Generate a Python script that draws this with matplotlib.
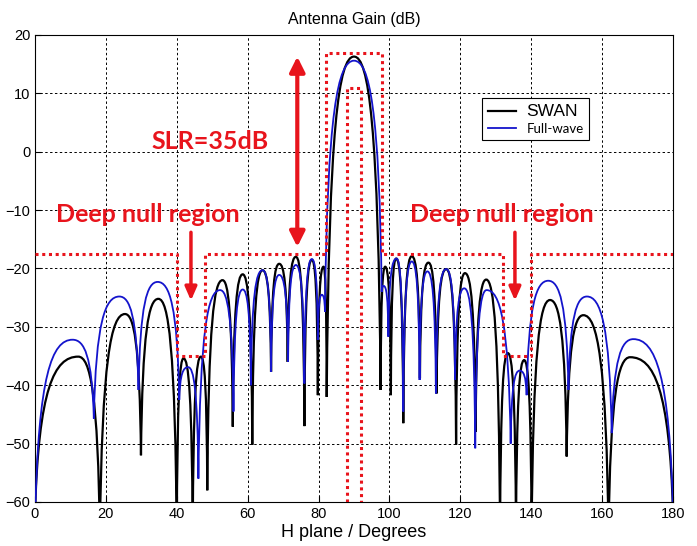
import matplotlib
matplotlib.use("Agg")
import matplotlib.pyplot as plt
from matplotlib.path import Path
from matplotlib.patches import PathPatch
from matplotlib.lines import Line2D


# turning points of the patterns (deg, dB): nulls and lobe peaks, alternating
swan_deg = [0.0, 12.2, 18.3, 25.4, 29.9, 34.8, 40.0, 41.9, 44.5, 46.8, 48.6,
            52.9, 55.8, 58.6, 61.3, 64.2, 66.6, 68.9, 71.3, 73.6, 76.0, 78.1,
            79.8, 81.4, 82.3, 90.0, 97.5, 98.8, 100.4, 101.9, 103.9, 106.3,
            108.6, 111.0, 113.3, 116.0, 118.8, 121.3, 124.3, 127.3, 131.2,
            133.4, 135.7, 138.0, 140.1, 145.3, 150.0, 154.7, 161.8, 167.9, 180.0]
swan_db = [-62, -35.1, -66, -27.8, -52.0, -25.2, -66, -35.4, -66, -35.1, -58.0,
           -22.0, -47.1, -21.0, -50.2, -20.3, -37.7, -19.2, -36.0, -18.0, -47.0, -18.5,
           -41.7, -19.7, -42.0, 16.3, -40.8, -19.7, -41.7, -18.3, -46.5, -17.9,
           -38.8, -19.0, -41.4, -20.1, -50.2, -20.8, -48.0, -21.9, -66,
           -34.5, -66, -35.7, -66, -25.4, -52.2, -28.0, -66, -35.2, -62]

fw_deg = [0.1, 10.6, 16.6, 23.8, 29.2, 34.6, 40.7, 43.2, 46.1, 52.2, 56.0,
          58.6, 60.9, 64.2, 66.6, 68.9, 71.4, 73.6, 76.0, 78.1, 79.8, 80.9,
          81.8, 90.0, 97.8, 98.4, 99.7, 102.0, 103.9, 106.3, 108.5, 110.7,
          113.1, 116.0, 118.5, 121.1, 124.2, 127.4, 134.2, 136.7, 138.7,
          144.8, 150.5, 155.7, 162.7, 168.8, 180.0]
fw_db = [-62, -32.2, -45.7, -24.8, -40.8, -22.3, -42.5, -36.9, -56.0, -23.7, -44.5,
         -23.6, -40.0, -20.3, -37.7, -21.1, -36.0, -19.4, -39.7, -18.4, -32.2, -24.5,
         -27.4, 15.6, -24.0, -23.0, -31.7, -18.3, -44.5, -18.8, -39.1, -20.5,
         -41.4, -20.1, -39.1, -23.4, -50.8, -23.7, -50.0, -37.5, -41.7,
         -22.1, -40.8, -24.8, -48.2, -32.1, -62]

# sidelobe masks (red dotted)
mask_deg = [0, 40, 40, 48, 48, 82, 82, 98, 98, 132, 132, 140, 140, 180]
mask_db = [-17.5, -17.5, -35, -35, -17.5, -17.5, 17, 17, -17.5, -17.5, -35, -35, -17.5, -17.5]
inner_deg = [88, 88, 92, 92]
inner_db = [-60, 11, 11, -60]

RED = "#e8141c"
BLUE = "#1414cc"


def pattern_path(xs, ys):
    # smooth lobes: steep near the nulls, flat on top of the peaks
    verts = [(xs[0], ys[0])]
    codes = [Path.MOVETO]
    for i in range(1, len(xs)):
        x0, y0, x1, y1 = xs[i - 1], ys[i - 1], xs[i], ys[i]
        dx, dy = x1 - x0, y1 - y0
        if dy > 0:
            c1 = (x0 + 0.08 * dx, y0 + 0.8 * dy)
            c2 = (x0 + 0.45 * dx, y1)
        else:
            c1 = (x0 + 0.55 * dx, y0)
            c2 = (x0 + 0.92 * dx, y0 + 0.2 * dy)
        verts += [c1, c2, (x1, y1)]
        codes += [Path.CURVE4] * 3
    return Path(verts, codes)


plt.rcParams['font.family'] = ['Liberation Sans', 'DejaVu Sans']

fig = plt.figure(figsize=(6.97, 5.46), dpi=100)
ax = fig.add_axes([0.0502, 0.0806, 0.9154, 0.8553])

ax.set_xlim(0, 180)
ax.set_ylim(-60, 20)
ax.set_xticks(range(0, 181, 20))
ax.set_yticks(range(-60, 21, 10))
ax.tick_params(direction='in', length=4, labelsize=10.5, width=0.8)
ax.grid(True, color='k', linestyle=(0, (2.5, 2.5)), linewidth=0.7)
for s in ax.spines.values():
    s.set_linewidth(0.8)

ax.add_patch(PathPatch(pattern_path(swan_deg, swan_db), fill=False,
                       edgecolor='black', lw=1.6, zorder=3))
ax.add_patch(PathPatch(pattern_path(fw_deg, fw_db), fill=False,
                       edgecolor=BLUE, lw=1.3, zorder=4))

ax.plot(mask_deg, mask_db, color=RED, linestyle=(0, (1, 1.2)), lw=2.2, zorder=5)
ax.plot(inner_deg, inner_db, color=RED, linestyle=(0, (1, 1.2)), lw=2.2, zorder=5)

# annotations
ax.annotate('', xy=(74, 16.3), xytext=(74, -16.3),
            arrowprops=dict(arrowstyle='<|-|>,head_width=0.45,head_length=0.9',
                            color=RED, lw=3, shrinkA=0, shrinkB=0), zorder=6)
for xa in (44, 135.4):
    ax.annotate('', xy=(xa, -25.5), xytext=(xa, -13.8),
                arrowprops=dict(arrowstyle='-|>,head_width=0.35,head_length=0.8',
                                color=RED, lw=2.5, shrinkA=0, shrinkB=0), zorder=6)

ann_font = dict(color=RED, fontsize=18, fontweight='bold', family='Lato',
                ha='center', va='center', zorder=7)
ax.text(49.5, 1.8, 'SLR=35dB', **ann_font)
ax.text(31.8, -10.7, 'Deep null region', **ann_font)
ax.text(131.8, -10.7, 'Deep null region', **ann_font)

ax.set_title('Antenna Gain (dB)', fontsize=11.5, pad=8)
ax.set_xlabel('H plane / Degrees', fontsize=13, labelpad=2)

handles = [Line2D([], [], color='black', lw=1.6),
           Line2D([], [], color=BLUE, lw=1.3)]
leg = ax.legend(handles, ['SWAN', 'Full-wave'], loc='upper left',
                bbox_to_anchor=(0.69, 0.88), fancybox=False, framealpha=1,
                edgecolor='black', handlelength=2.0, borderpad=0.4,
                labelspacing=0.3)
leg.get_frame().set_linewidth(0.8)
leg.get_texts()[0].set_fontsize(12.5)
leg.get_texts()[1].set_fontsize(9.5)
leg.get_texts()[1].set_family('Lato')

fig.savefig('out.png', dpi=100)
